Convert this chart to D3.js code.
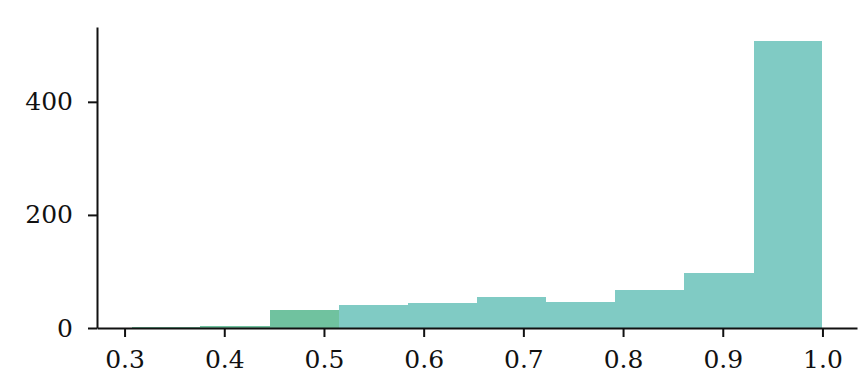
<!DOCTYPE html>
<html>
<head>
<meta charset="utf-8">
<script src="https://cdn.jsdelivr.net/npm/d3@7"></script>
<style>
  html, body { margin: 0; padding: 0; background: #fff; }
  svg { display: block; }
  .tick text { font-family: "DejaVu Serif", serif; font-size: 25px; fill: #111; }
</style>
</head>
<body>
<svg id="chart" width="861" height="384"></svg>
<script>
// Data
const binEdges = [0.307, 0.376, 0.446, 0.515, 0.584, 0.654, 0.723, 0.792, 0.861, 0.931, 1.0];
const counts = [1, 4, 31, 40, 44, 55, 46, 68, 98, 507];
const xTicks = [0.3, 0.4, 0.5, 0.6, 0.7, 0.8, 0.9, 1.0];
const yTicks = [0, 200, 400];

const W = 861, H = 384;
const margin = { left: 97, right: 4, top: 27, bottom: 56 };

const svg = d3.select("#chart");

const lo = binEdges[0], hi = binEdges[binEdges.length - 1];
const padX = (hi - lo) * 0.05;
const x = d3.scaleLinear().domain([lo - padX, hi + padX]).range([margin.left, W - margin.right]);
const yMax = d3.max(counts) * 1.05;
const y = d3.scaleLinear().domain([0, yMax]).range([H - margin.bottom, margin.top]);

const bins = counts.map((c, i) => ({ x0: binEdges[i], x1: binEdges[i + 1], c, i }));
const fillFor = i => (i <= 2 ? "#70c29f" : "#80cbc4");

svg.append("g").selectAll("rect").data(bins).join("rect")
  .attr("x", d => x(d.x0))
  .attr("width", d => x(d.x1) - x(d.x0))
  .attr("y", d => y(d.c))
  .attr("height", d => y(0) - y(d.c))
  .attr("fill", d => fillFor(d.i))
  .attr("shape-rendering", "crispEdges");

const xAxis = svg.append("g")
  .attr("transform", `translate(0,${y(0)})`)
  .call(d3.axisBottom(x).tickValues(xTicks).tickFormat(d3.format(".1f")).tickSize(9).tickPadding(13).tickSizeOuter(0));
const yAxis = svg.append("g")
  .attr("transform", `translate(${margin.left},0)`)
  .call(d3.axisLeft(y).tickValues(yTicks).tickFormat(d3.format("d")).tickSize(9).tickPadding(15).tickSizeOuter(0));

[xAxis, yAxis].forEach(g => {
  g.select(".domain").attr("stroke", "#111").attr("stroke-width", 2);
  g.selectAll(".tick line").attr("stroke", "#111").attr("stroke-width", 2);
});
</script>
</body>
</html>
